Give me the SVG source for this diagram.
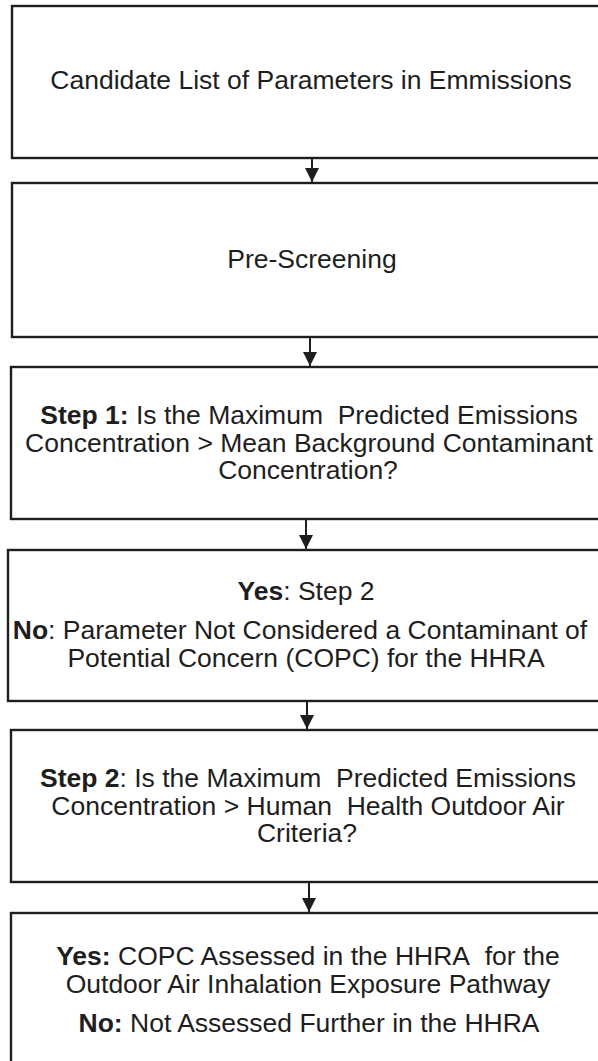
<svg xmlns="http://www.w3.org/2000/svg" width="598" height="1061" viewBox="0 0 598 1061">
<style>
.box{fill:#fff;stroke:#1e1e1e;stroke-width:2.4}
.t{font-family:"Liberation Sans",Arial,sans-serif;font-size:26.5px;fill:#1e1e1e;text-anchor:middle}
.b{font-weight:bold}
.con{stroke:#1e1e1e;stroke-width:2;fill:none}
</style>
<defs>
<marker id="ah" viewBox="0 0 10 10" refX="10" refY="5" markerWidth="7" markerHeight="7" markerUnits="strokeWidth" orient="auto">
<path d="M0,0 L10,5 L0,10 z" fill="#1e1e1e"/>
</marker>
</defs>
<rect width="598" height="1061" fill="#fff"/>
<g id="n1"><rect class="box" x="12" y="6" width="620" height="152"/>
<text class="t" x="311" y="89">Candidate List of Parameters in Emmissions</text></g>
<g id="n2"><rect class="box" x="12" y="183" width="620" height="154"/>
<text class="t" x="312" y="268">Pre-Screening</text></g>
<g id="n3"><rect class="box" x="11" y="367" width="620" height="152"/>
<text class="t" x="309" y="424"><tspan class="b">Step 1:</tspan> Is the Maximum&#160; Predicted Emissions</text>
<text class="t" x="309" y="452">Concentration &gt; Mean Background Contaminant</text>
<text class="t" x="308" y="479">Concentration?</text></g>
<g id="n4"><rect class="box" x="8" y="550" width="620" height="151"/>
<text class="t" x="306" y="600"><tspan class="b">Yes</tspan>: Step 2</text>
<text class="t" x="300" y="639"><tspan class="b">No</tspan>: Parameter Not Considered a Contaminant of</text>
<text class="t" x="306" y="667">Potential Concern (COPC) for the HHRA</text></g>
<g id="n5"><rect class="box" x="11" y="730" width="620" height="152"/>
<text class="t" x="308" y="787"><tspan class="b">Step 2</tspan>: Is the Maximum&#160; Predicted Emissions</text>
<text class="t" x="308" y="815">Concentration &gt; Human&#160; Health Outdoor Air</text>
<text class="t" x="307" y="842">Criteria?</text></g>
<g id="n6"><rect class="box" x="11" y="913" width="620" height="200"/>
<text class="t" x="308" y="965"><tspan class="b">Yes:</tspan> COPC Assessed in the HHRA&#160; for the</text>
<text class="t" x="308" y="993">Outdoor Air Inhalation Exposure Pathway</text>
<text class="t" x="309" y="1032"><tspan class="b">No:</tspan> Not Assessed Further in the HHRA</text></g>
<g id="connectors">
<line class="con" x1="312" y1="158" x2="312" y2="182" marker-end="url(#ah)"/>
<line class="con" x1="310" y1="337" x2="310" y2="366" marker-end="url(#ah)"/>
<line class="con" x1="306" y1="519" x2="306" y2="549" marker-end="url(#ah)"/>
<line class="con" x1="307" y1="701" x2="307" y2="729" marker-end="url(#ah)"/>
<line class="con" x1="309" y1="882" x2="309" y2="912" marker-end="url(#ah)"/>
</g>
</svg>
